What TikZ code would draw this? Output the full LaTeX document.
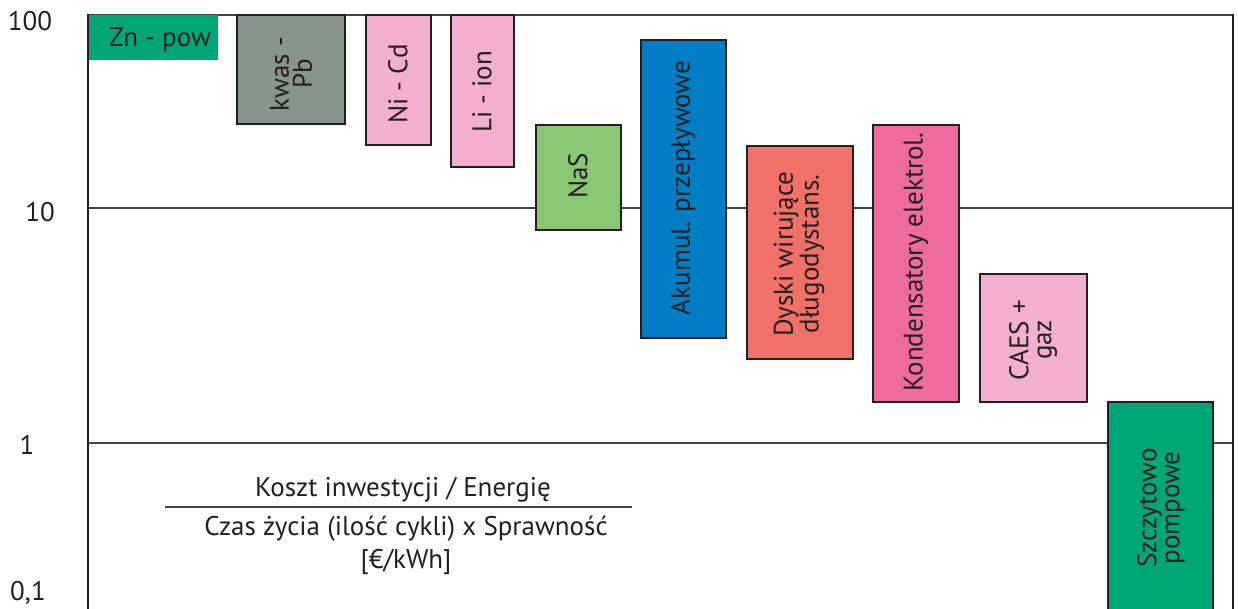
\documentclass[tikz,border=0pt]{standalone}
\usepackage{fontspec}
\setmainfont{PT Sans}
\definecolor{ink}{RGB}{35,31,32}
\definecolor{zngreen}{RGB}{0,166,118}
\definecolor{pbgray}{RGB}{135,148,142}
\definecolor{lpink}{RGB}{244,175,208}
\definecolor{nasgreen}{RGB}{137,199,115}
\definecolor{flowblue}{RGB}{0,125,196}
\definecolor{salmon}{RGB}{241,112,104}
\definecolor{kpink}{RGB}{238,107,160}
\definecolor{gridc}{RGB}{70,70,70}
\begin{document}
\begin{tikzpicture}[x=1pt,y=-1pt,
  bar/.style={draw=ink,line width=2.6pt},
  lbl/.style={text=ink,font=\fontsize{27}{23}\selectfont,align=center,inner sep=0pt},
  gridline/.style={draw=gridc,line width=1.3pt},
  axis/.style={draw=ink,line width=2pt}]
\useasboundingbox (0,0) rectangle (1238,609);
% grid lines
\draw[gridline] (88,15) -- (1233,15);
\draw[gridline] (88,208) -- (1233,208);
\draw[gridline] (88,443) -- (1233,443);
% bars
\fill[zngreen] (88,15) rectangle (218,60);
\node[lbl] (zn) at (160,40) {Zn - pow};
\path[bar,fill=pbgray] (237,15) rectangle (345,124);
\node[lbl,rotate=90] (kwas) at (291,74) {kwas -\\Pb};
\path[bar,fill=lpink] (366,15) rectangle (431,145);
\node[lbl,rotate=90] (nicd) at (398,84) {Ni - Cd};
\path[bar,fill=lpink] (451,15) rectangle (514,167);
\node[lbl,rotate=90] (liion) at (482,92) {Li - ion};
\path[bar,fill=nasgreen] (536,125) rectangle (621,230);
\node[lbl,rotate=90] (nas) at (578,176) {NaS};
\path[bar,fill=flowblue] (641,40) rectangle (726,338);
\node[lbl,rotate=90] (akum) at (683,188) {Akumul. przepływowe};
\path[bar,fill=salmon] (747,146) rectangle (853,359);
\node[lbl,rotate=90] (dyski) at (799,254) {Dyski wirujące\\długodystans.};
\path[bar,fill=kpink] (873,125) rectangle (959,402);
\node[lbl,rotate=90] (kond) at (916,262) {Kondensatory elektrol.};
\path[bar,fill=lpink] (980,274) rectangle (1087,402);
\node[lbl,rotate=90] (caes) at (1033,340) {CAES +\\gaz};
\path[bar,fill=zngreen] (1108,402) rectangle (1213,620);
\node[lbl,rotate=90] (szcz) at (1161,508) {Szczytowo\\pompowe};
% axes
\draw[axis] (88,14) -- (88,609);
\draw[axis] (1233,14) -- (1233,609);
% axis labels
\node[lbl] (l100) at (30,21) {100};
\node[lbl] (l10) at (40,212) {10};
\node[lbl] (l1) at (27,445) {1};
\node[lbl] (l01) at (28,593) {0,1};
% fraction
\node[lbl] (num) at (403,490) {Koszt inwestycji / Energię};
\coordinate (fl) at (165,507);
\coordinate (fr) at (632,507);
\draw[draw=gridc,line width=1.3pt] (fl) -- (fr);
\node[lbl] (den) at (406,529) {Czas życia (ilość cykli) x Sprawność};
\node[lbl] (unit) at (406,562) {[€/kWh]};
\end{tikzpicture}
\end{document}
